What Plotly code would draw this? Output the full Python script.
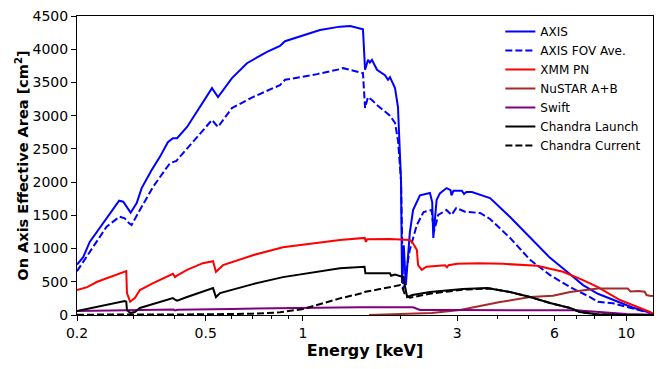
import plotly.graph_objects as go

# --- Effective area curves (energy in keV, area in cm^2) ---
axis_e = [0.200, 0.209, 0.219, 0.243, 0.270, 0.278, 0.293, 0.306, 0.317, 0.340, 0.361, 0.382,
          0.396, 0.408, 0.438, 0.523, 0.546, 0.603, 0.671, 0.774, 0.849, 0.880, 1.000, 1.129,
          1.301, 1.400, 1.533, 1.556, 1.589, 1.610, 1.634, 1.694, 1.793, 1.832, 1.858, 1.926,
          1.967, 2.010, 2.025, 2.050, 2.080, 2.140, 2.190, 2.300, 2.470, 2.510, 2.530, 2.560,
          2.590, 2.650, 2.780, 2.860, 2.880, 2.920, 3.100, 3.150, 3.200, 3.330, 3.790, 4.370,
          5.040, 5.810, 6.560, 7.350, 8.170, 9.560, 10.50, 11.59, 12.09]
axis_a = [760, 870, 1100, 1405, 1720, 1705, 1540, 1685, 1910, 2180, 2380, 2600,
          2660, 2660, 2830, 3415, 3280, 3565, 3790, 3960, 4050, 4120, 4210, 4290,
          4340, 4350, 4300, 3690, 3840, 3800, 3840, 3690, 3610, 3540, 3580, 3415,
          3130, 2030, 480, 1050, 450, 1235, 1580, 1800, 1835, 1700, 1160, 1500,
          1730, 1830, 1910, 1880, 1800, 1870, 1870, 1820, 1850, 1850, 1760, 1475,
          1160, 860, 650, 450, 320, 195, 110, 50, 10]

axis_fov_e = [0.200, 0.219, 0.227, 0.247, 0.271, 0.281, 0.290, 0.295, 0.313, 0.344, 0.374, 0.388,
              0.406, 0.523, 0.546, 0.603, 0.700, 0.849, 0.880, 1.105, 1.301, 1.330, 1.533, 1.556,
              1.589, 1.634, 1.694, 1.820, 1.858, 1.926, 1.967, 2.010, 2.040, 2.140, 2.250, 2.360,
              2.500, 2.540, 2.620, 2.780, 2.880, 2.980, 3.170, 3.530, 3.790, 4.370, 5.040, 5.810,
              6.700, 7.720, 8.170, 9.100, 11.03, 11.84, 12.09]
axis_fov_a = [660, 950, 1080, 1330, 1480, 1455, 1380, 1355, 1580, 1930, 2180, 2285,
              2320, 2935, 2830, 3115, 3280, 3460, 3540, 3625, 3700, 3715, 3640, 3115,
              3280, 3235, 3160, 3040, 3000, 2890, 2630, 2030, 380, 980, 1355, 1550,
              1580, 1250, 1505, 1580, 1505, 1610, 1555, 1535, 1445, 1160, 830, 600,
              420, 270, 200, 176, 75, 30, 15]

xmm_e = [0.200, 0.215, 0.231, 0.281, 0.284, 0.2855, 0.292, 0.302, 0.313, 0.344, 0.396, 0.402,
         0.410, 0.438, 0.490, 0.527, 0.538, 0.566, 0.700, 0.867, 1.301, 1.553, 1.565, 1.580,
         1.858, 2.140, 2.190, 2.250, 2.270, 2.330, 2.410, 2.750, 2.790, 2.820, 3.000, 3.500,
         4.160, 5.300, 6.370, 7.350, 8.170, 9.560, 10.05, 11.03, 11.84, 12.09]
xmm_a = [375, 420, 500, 650, 660, 330, 200, 255, 375, 480, 620, 570,
         600, 680, 780, 810, 650, 750, 900, 1020, 1130, 1160, 1100, 1140,
         1145, 1130, 1080, 980, 750, 680, 727, 750, 720, 750, 770, 780,
         770, 740, 650, 525, 420, 225, 180, 105, 45, 20]

nustar_e = [1.60, 2.00, 2.50, 3.06, 3.28, 4.07, 5.04, 5.93, 6.70, 7.56, 8.17, 9.56,
            10.10, 10.30, 10.90, 11.40, 11.55, 11.80, 12.09]
nustar_a = [0, 10, 30, 75, 105, 195, 270, 290, 345, 375, 400, 400,
            400, 355, 360, 350, 300, 290, 285]

swift_e = [0.200, 0.280, 0.398, 0.402, 0.410, 0.600, 1.000, 1.500, 2.190, 2.300, 3.000, 5.000,
           7.000, 7.500, 8.700, 10.00, 12.09]
swift_a = [60, 72, 82, 68, 80, 92, 108, 118, 115, 75, 75, 75,
           70, 60, 35, 15, 5]

chandra_launch_e = [0.200, 0.236, 0.281, 0.284, 0.2855, 0.292, 0.302, 0.313, 0.354, 0.396, 0.402, 0.408,
                    0.438, 0.527, 0.538, 0.554, 0.700, 0.867, 1.301, 1.550, 1.560, 1.820, 1.858, 1.872,
                    1.926, 2.040, 2.070, 2.100, 2.180, 2.470, 3.120, 3.710, 4.370, 5.040, 5.810, 6.700,
                    7.190, 8.120, 9.770, 12.09]
chandra_launch_a = [60, 135, 210, 200, 75, 30, 45, 105, 180, 255, 230, 215,
                    270, 405, 270, 330, 465, 570, 705, 727, 627, 627, 630, 590,
                    610, 570, 420, 270, 300, 345, 390, 405, 345, 270, 180, 105,
                    45, 10, 0, 0]

chandra_current_e = [0.200, 0.300, 0.500, 0.700, 0.850, 1.000, 1.150, 1.300, 1.530, 1.560, 1.730, 2.000,
                     2.020, 2.070, 2.140, 2.470, 3.100, 3.790, 4.370, 5.040, 5.810, 6.700, 7.190, 8.120,
                     9.770, 12.09]
chandra_current_a = [5, 5, 10, 20, 40, 90, 175, 250, 330, 350, 390, 450,
                     440, 300, 260, 320, 380, 400, 345, 270, 180, 105, 45, 10,
                     0, 0]

x_tickvals = [0.2, 0.5, 1, 3, 6, 10]
x_ticktext = ["0.2", "0.5", "1", "3", "6", "10"]
x_minor = [0.3, 0.4, 0.6, 0.7, 0.8, 0.9, 2, 4, 5, 7, 8, 9]
y_tickvals = list(range(0, 4501, 500))

series = [
    ("AXIS", axis_e, axis_a, "#0000ff", "solid"),
    ("AXIS FOV Ave.", axis_fov_e, axis_fov_a, "#0000ff", "7px,3px"),
    ("XMM PN", xmm_e, xmm_a, "#ff0000", "solid"),
    ("NuSTAR A+B", nustar_e, nustar_a, "#a52a2a", "solid"),
    ("Swift", swift_e, swift_a, "#800080", "solid"),
    ("Chandra Launch", chandra_launch_e, chandra_launch_a, "#000000", "solid"),
    ("Chandra Current", chandra_current_e, chandra_current_a, "#000000", "7px,3px"),
]

fig = go.Figure()
for name, e, a, color, dash in series:
    fig.add_trace(go.Scatter(x=e, y=a, name=name, mode="lines",
                             line=dict(color=color, width=2, dash=dash)))

axis_common = dict(showline=True, linecolor="black", linewidth=1, mirror=True,
                   ticks="outside", tickcolor="black", ticklen=5, showgrid=False,
                   zeroline=False, automargin=False, ticklabeloverflow="allow",
                   tickfont=dict(size=14, color="black"))

# the page body adds an 8px offset, so the figure is sized to fit inside the window
fig.update_layout(
    width=656, height=361,
    margin=dict(l=69, r=11, t=8, b=54),
    paper_bgcolor="white", plot_bgcolor="white",
    font=dict(family="DejaVu Sans", color="black"),
    showlegend=True,
    legend=dict(x=0.735, y=0.997, xanchor="left", yanchor="top",
                bgcolor="rgba(255,255,255,0)", font=dict(size=12),
                itemwidth=30, tracegroupgap=0),
    xaxis=dict(type="log", range=[-0.69897, 1.0826],
               tickvals=x_tickvals, ticktext=x_ticktext,
               minor=dict(tickmode="array", tickvals=x_minor, ticks="outside",
                          ticklen=3, tickcolor="black"),
               title=dict(text="<b>Energy [keV]</b>", font=dict(size=16), standoff=5),
               **axis_common),
    yaxis=dict(range=[0, 4500], tickvals=y_tickvals,
               title=dict(text="<b>On Axis Effective Area [cm<sup>2</sup>]</b>",
                          font=dict(size=14.5), standoff=0),
               **axis_common),
)

fig.write_html("out.html")
